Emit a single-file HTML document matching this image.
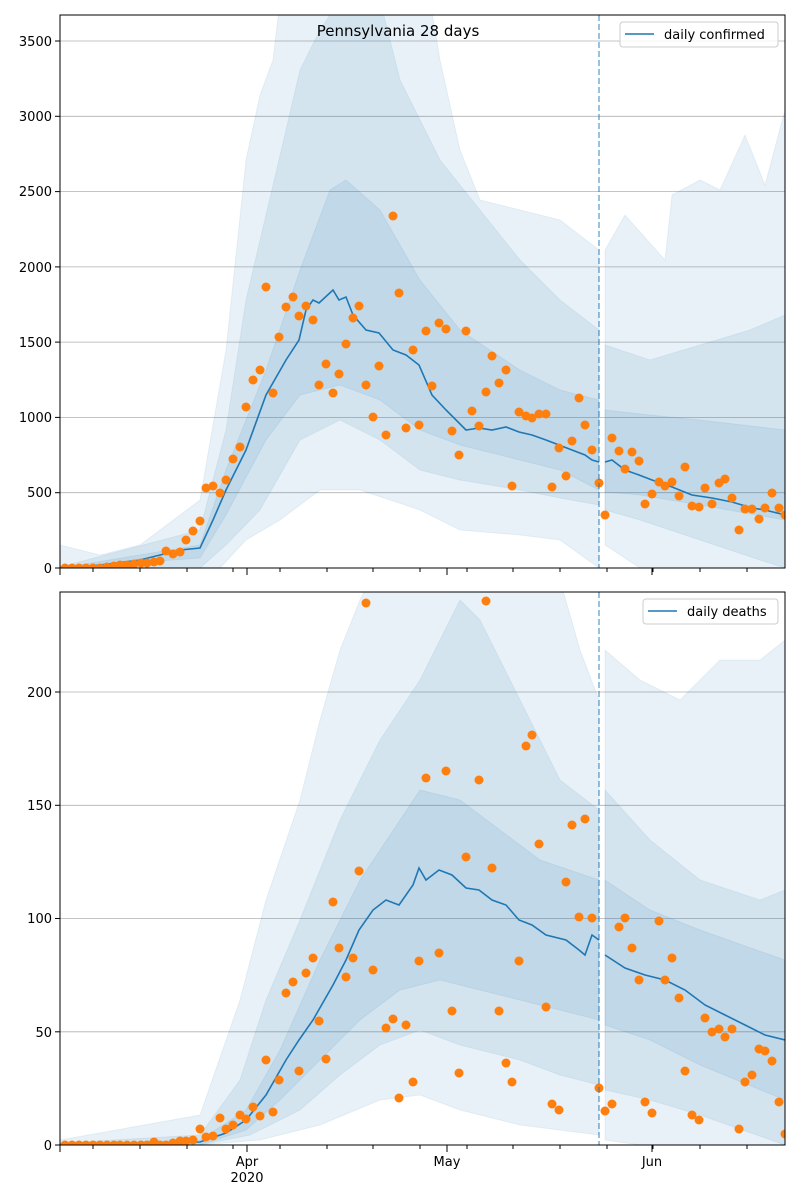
<!DOCTYPE html>
<html><head><meta charset="utf-8"><style>body{margin:0;background:#fff}svg{display:block;font-family:"DejaVu Sans","Liberation Sans",sans-serif}</style></head><body>
<svg width="800" height="1200" viewBox="0 0 800 1200" xmlns="http://www.w3.org/2000/svg">
<defs>
<clipPath id="c1"><rect x="60" y="15" width="725" height="553"/></clipPath>
<clipPath id="c2"><rect x="60" y="592" width="725" height="553"/></clipPath>
</defs>
<rect width="800" height="1200" fill="#fff"/>
<!-- TOP -->
<g clip-path="url(#c1)">
<g stroke="#b0b0b0" stroke-width="0.8">
<line x1="60" x2="785" y1="492.7" y2="492.7"/><line x1="60" x2="785" y1="417.4" y2="417.4"/><line x1="60" x2="785" y1="342.1" y2="342.1"/><line x1="60" x2="785" y1="266.9" y2="266.9"/><line x1="60" x2="785" y1="191.6" y2="191.6"/><line x1="60" x2="785" y1="116.3" y2="116.3"/><line x1="60" x2="785" y1="41" y2="41"/>
</g>
<g fill="#1f77b4" fill-opacity="0.1" stroke="#1f77b4" stroke-opacity="0.08">
<polygon points="60,545 100,555 140,545 200,500 226,350 246,160 260,95 273,60 280,0 430,0 440,60 460,150 480,200 520,210 560,220 599,250 599,568 560,540 520,535 460,530 420,510 360,490 320,490 280,520 246,540 220,568 60,568"/>
<polygon points="605,250 625,215 665,260 672,195 700,180 720,190 745,135 765,185 785,110 785,568 640,568 605,545"/>
<polygon points="60,567 200,530 226,430 246,300 266,215 286,130 300,70 320,30 340,0 380,0 400,80 440,160 480,210 520,260 560,300 599,330 599,505 560,498 520,490 460,480 420,470 380,440 340,420 300,440 260,510 226,545 200,568 60,568"/>
<polygon points="605,345 650,360 700,345 750,330 785,315 785,568 760,560 700,540 640,520 605,510"/>
<polygon points="60,568 200,545 226,470 266,370 300,270 330,190 346,180 380,210 420,280 460,330 520,370 560,390 599,400 599,490 560,470 520,460 460,445 420,430 380,400 340,385 300,395 266,440 226,515 200,558 60,568"/>
<polygon points="605,410 650,415 700,420 785,430 785,520 700,505 640,495 605,492"/>
</g>
<polyline fill="none" stroke="#1f77b4" stroke-width="1.6" points="60,568 100,565 140,560 180,550 200,548 213,520 226,490 246,450 266,395 286,360 299,340 306,310 313,300 319,303 333,290 339,300 346,297 353,315 366,330 379,333 393,350 406,355 419,365 432,395 446,410 466,430 479,428 492,430 506,427 519,432 532,435 546,440 559,445 572,450 585,455 592,460 599,462"/>
<polyline fill="none" stroke="#1f77b4" stroke-width="1.6" points="605,462 612,460 625,470 639,475 652,480 672,487 692,495 712,498 732,502 752,508 765,510 785,515"/>
<g fill="#ff7f0e">
<circle cx="65" cy="568" r="4.5"/><circle cx="72" cy="568" r="4.5"/><circle cx="79" cy="568" r="4.5"/><circle cx="86" cy="568" r="4.5"/><circle cx="93" cy="568" r="4.5"/><circle cx="100" cy="568" r="4.5"/><circle cx="107" cy="567" r="4.5"/><circle cx="114" cy="566" r="4.5"/><circle cx="120" cy="565" r="4.5"/><circle cx="127" cy="565" r="4.5"/><circle cx="134" cy="564" r="4.5"/><circle cx="141" cy="563" r="4.5"/><circle cx="147" cy="563" r="4.5"/><circle cx="154" cy="562" r="4.5"/><circle cx="160" cy="561" r="4.5"/><circle cx="166" cy="551" r="4.5"/><circle cx="173" cy="554" r="4.5"/><circle cx="180" cy="552" r="4.5"/><circle cx="186" cy="540" r="4.5"/><circle cx="193" cy="531" r="4.5"/><circle cx="200" cy="521" r="4.5"/><circle cx="206" cy="488" r="4.5"/><circle cx="213" cy="486" r="4.5"/><circle cx="220" cy="493" r="4.5"/><circle cx="226" cy="480" r="4.5"/><circle cx="233" cy="459" r="4.5"/><circle cx="240" cy="447" r="4.5"/><circle cx="246" cy="407" r="4.5"/><circle cx="253" cy="380" r="4.5"/><circle cx="260" cy="370" r="4.5"/><circle cx="266" cy="287" r="4.5"/><circle cx="273" cy="393" r="4.5"/><circle cx="279" cy="337" r="4.5"/><circle cx="286" cy="307" r="4.5"/><circle cx="293" cy="297" r="4.5"/><circle cx="299" cy="316" r="4.5"/><circle cx="306" cy="306" r="4.5"/><circle cx="313" cy="320" r="4.5"/><circle cx="319" cy="385" r="4.5"/><circle cx="326" cy="364" r="4.5"/><circle cx="333" cy="393" r="4.5"/><circle cx="339" cy="374" r="4.5"/><circle cx="346" cy="344" r="4.5"/><circle cx="353" cy="318" r="4.5"/><circle cx="359" cy="306" r="4.5"/><circle cx="366" cy="385" r="4.5"/><circle cx="373" cy="417" r="4.5"/><circle cx="379" cy="366" r="4.5"/><circle cx="386" cy="435" r="4.5"/><circle cx="393" cy="216" r="4.5"/><circle cx="399" cy="293" r="4.5"/><circle cx="406" cy="428" r="4.5"/><circle cx="413" cy="350" r="4.5"/><circle cx="419" cy="425" r="4.5"/><circle cx="426" cy="331" r="4.5"/><circle cx="432" cy="386" r="4.5"/><circle cx="439" cy="323" r="4.5"/><circle cx="446" cy="329" r="4.5"/><circle cx="452" cy="431" r="4.5"/><circle cx="459" cy="455" r="4.5"/><circle cx="466" cy="331" r="4.5"/><circle cx="472" cy="411" r="4.5"/><circle cx="479" cy="426" r="4.5"/><circle cx="486" cy="392" r="4.5"/><circle cx="492" cy="356" r="4.5"/><circle cx="499" cy="383" r="4.5"/><circle cx="506" cy="370" r="4.5"/><circle cx="512" cy="486" r="4.5"/><circle cx="519" cy="412" r="4.5"/><circle cx="526" cy="416" r="4.5"/><circle cx="532" cy="418" r="4.5"/><circle cx="539" cy="414" r="4.5"/><circle cx="546" cy="414" r="4.5"/><circle cx="552" cy="487" r="4.5"/><circle cx="559" cy="448" r="4.5"/><circle cx="566" cy="476" r="4.5"/><circle cx="572" cy="441" r="4.5"/><circle cx="579" cy="398" r="4.5"/><circle cx="585" cy="425" r="4.5"/><circle cx="592" cy="450" r="4.5"/><circle cx="599" cy="483" r="4.5"/><circle cx="605" cy="515" r="4.5"/><circle cx="612" cy="438" r="4.5"/><circle cx="619" cy="451" r="4.5"/><circle cx="625" cy="469" r="4.5"/><circle cx="632" cy="452" r="4.5"/><circle cx="639" cy="461" r="4.5"/><circle cx="645" cy="504" r="4.5"/><circle cx="652" cy="494" r="4.5"/><circle cx="659" cy="482" r="4.5"/><circle cx="665" cy="486" r="4.5"/><circle cx="672" cy="482" r="4.5"/><circle cx="679" cy="496" r="4.5"/><circle cx="685" cy="467" r="4.5"/><circle cx="692" cy="506" r="4.5"/><circle cx="699" cy="507" r="4.5"/><circle cx="705" cy="488" r="4.5"/><circle cx="712" cy="504" r="4.5"/><circle cx="719" cy="483" r="4.5"/><circle cx="725" cy="479" r="4.5"/><circle cx="732" cy="498" r="4.5"/><circle cx="739" cy="530" r="4.5"/><circle cx="745" cy="509" r="4.5"/><circle cx="752" cy="509" r="4.5"/><circle cx="759" cy="519" r="4.5"/><circle cx="765" cy="508" r="4.5"/><circle cx="772" cy="493" r="4.5"/><circle cx="779" cy="508" r="4.5"/><circle cx="785" cy="515" r="4.5"/>
</g>
<line x1="599" x2="599" y1="15" y2="568" stroke="#1f77b4" stroke-opacity="0.6" stroke-width="1.5" stroke-dasharray="6,3"/>
</g>
<rect x="60" y="15" width="725" height="553" fill="none" stroke="#000" stroke-width="1"/>
<g font-size="13" text-anchor="end" fill="#000">
<text x="52" y="573">0</text><text x="52" y="497">500</text><text x="52" y="422">1000</text><text x="52" y="347">1500</text><text x="52" y="272">2000</text><text x="52" y="196">2500</text><text x="52" y="121">3000</text><text x="52" y="46">3500</text>
</g>
<g stroke="#000"><line x1="55" x2="60" y1="568" y2="568"/><line x1="55" x2="60" y1="492.7" y2="492.7"/><line x1="55" x2="60" y1="417.4" y2="417.4"/><line x1="55" x2="60" y1="342.1" y2="342.1"/><line x1="55" x2="60" y1="266.9" y2="266.9"/><line x1="55" x2="60" y1="191.6" y2="191.6"/><line x1="55" x2="60" y1="116.3" y2="116.3"/><line x1="55" x2="60" y1="41" y2="41"/>
<line x1="60" x2="60" y1="568" y2="575"/><line x1="247" x2="247" y1="568" y2="575"/><line x1="447" x2="447" y1="568" y2="575"/><line x1="652" x2="652" y1="568" y2="575"/>
<g id="mt1"><line x1="93" x2="93" y1="568" y2="572"/><line x1="140" x2="140" y1="568" y2="572"/><line x1="187" x2="187" y1="568" y2="572"/><line x1="233" x2="233" y1="568" y2="572"/><line x1="280" x2="280" y1="568" y2="572"/><line x1="327" x2="327" y1="568" y2="572"/><line x1="373" x2="373" y1="568" y2="572"/><line x1="420" x2="420" y1="568" y2="572"/><line x1="467" x2="467" y1="568" y2="572"/><line x1="513" x2="513" y1="568" y2="572"/><line x1="560" x2="560" y1="568" y2="572"/><line x1="607" x2="607" y1="568" y2="572"/><line x1="653" x2="653" y1="568" y2="572"/><line x1="700" x2="700" y1="568" y2="572"/><line x1="747" x2="747" y1="568" y2="572"/></g>
</g>
<text x="398" y="36" font-size="15" text-anchor="middle">Pennsylvania 28 days</text>
<rect x="620" y="22" width="158" height="25" rx="3" fill="#fff" fill-opacity="0.85" stroke="#ccc"/>
<line x1="625" x2="654" y1="34" y2="34" stroke="#1f77b4" stroke-width="1.6"/>
<text x="664" y="39" font-size="13">daily confirmed</text>

<!-- BOTTOM -->
<g clip-path="url(#c2)">
<g stroke="#b0b0b0" stroke-width="0.8">
<line x1="60" x2="785" y1="1031.8" y2="1031.8"/><line x1="60" x2="785" y1="918.5" y2="918.5"/><line x1="60" x2="785" y1="805.3" y2="805.3"/><line x1="60" x2="785" y1="692" y2="692"/>
</g>
<g fill="#1f77b4" fill-opacity="0.1" stroke="#1f77b4" stroke-opacity="0.08">
<polygon points="60,1140 200,1115 240,1000 266,900 300,800 320,720 340,650 360,600 370,580 560,580 580,650 599,700 599,1135 520,1125 460,1110 420,1095 380,1100 320,1125 260,1140 200,1145 60,1145"/>
<polygon points="605,650 640,680 680,700 720,660 760,660 785,640 785,1145 640,1145 605,1140"/>
<polygon points="60,1143 200,1135 240,1080 266,1000 300,920 340,820 380,740 420,680 440,640 460,600 480,620 520,700 560,780 599,810 599,1085 560,1075 520,1060 460,1045 420,1030 380,1045 340,1075 300,1110 250,1135 200,1145 60,1145"/>
<polygon points="605,790 650,840 700,880 760,900 785,890 785,1145 700,1115 650,1100 605,1090"/>
<polygon points="60,1145 200,1140 246,1110 280,1050 320,960 360,880 400,820 420,790 460,800 500,830 540,860 599,880 599,1020 560,1010 520,1000 480,990 440,980 400,990 360,1020 320,1060 280,1100 246,1130 200,1145"/>
<polygon points="605,880 650,910 700,930 785,960 785,1100 700,1065 650,1040 605,1025"/>
</g>
<polyline fill="none" stroke="#1f77b4" stroke-width="1.6" points="60,1145 200,1142 226,1133 246,1120 266,1095 286,1060 299,1040 313,1020 333,985 346,960 359,930 373,910 386,900 399,905 413,885 419,868 426,880 439,870 452,875 466,888 479,890 492,900 506,905 519,920 532,925 546,935 566,940 579,950 585,955 592,935 599,940"/>
<polyline fill="none" stroke="#1f77b4" stroke-width="1.6" points="605,955 625,968 645,975 665,980 685,990 705,1005 725,1015 745,1025 765,1035 785,1040"/>
<g fill="#ff7f0e">
<circle cx="65" cy="1145" r="4.5"/><circle cx="72" cy="1145" r="4.5"/><circle cx="79" cy="1145" r="4.5"/><circle cx="86" cy="1145" r="4.5"/><circle cx="93" cy="1145" r="4.5"/><circle cx="100" cy="1145" r="4.5"/><circle cx="107" cy="1145" r="4.5"/><circle cx="114" cy="1145" r="4.5"/><circle cx="120" cy="1145" r="4.5"/><circle cx="127" cy="1145" r="4.5"/><circle cx="134" cy="1145" r="4.5"/><circle cx="141" cy="1145" r="4.5"/><circle cx="147" cy="1145" r="4.5"/><circle cx="154" cy="1142" r="4.5"/><circle cx="160" cy="1145" r="4.5"/><circle cx="166" cy="1145" r="4.5"/><circle cx="173" cy="1143" r="4.5"/><circle cx="180" cy="1141" r="4.5"/><circle cx="186" cy="1141" r="4.5"/><circle cx="193" cy="1140" r="4.5"/><circle cx="200" cy="1129" r="4.5"/><circle cx="206" cy="1137" r="4.5"/><circle cx="213" cy="1136" r="4.5"/><circle cx="220" cy="1118" r="4.5"/><circle cx="226" cy="1129" r="4.5"/><circle cx="233" cy="1125" r="4.5"/><circle cx="240" cy="1115" r="4.5"/><circle cx="246" cy="1119" r="4.5"/><circle cx="253" cy="1107" r="4.5"/><circle cx="260" cy="1116" r="4.5"/><circle cx="266" cy="1060" r="4.5"/><circle cx="273" cy="1112" r="4.5"/><circle cx="279" cy="1080" r="4.5"/><circle cx="286" cy="993" r="4.5"/><circle cx="293" cy="982" r="4.5"/><circle cx="299" cy="1071" r="4.5"/><circle cx="306" cy="973" r="4.5"/><circle cx="313" cy="958" r="4.5"/><circle cx="319" cy="1021" r="4.5"/><circle cx="326" cy="1059" r="4.5"/><circle cx="333" cy="902" r="4.5"/><circle cx="339" cy="948" r="4.5"/><circle cx="346" cy="977" r="4.5"/><circle cx="353" cy="958" r="4.5"/><circle cx="359" cy="871" r="4.5"/><circle cx="366" cy="603" r="4.5"/><circle cx="373" cy="970" r="4.5"/><circle cx="386" cy="1028" r="4.5"/><circle cx="393" cy="1019" r="4.5"/><circle cx="399" cy="1098" r="4.5"/><circle cx="406" cy="1025" r="4.5"/><circle cx="413" cy="1082" r="4.5"/><circle cx="419" cy="961" r="4.5"/><circle cx="426" cy="778" r="4.5"/><circle cx="439" cy="953" r="4.5"/><circle cx="446" cy="771" r="4.5"/><circle cx="452" cy="1011" r="4.5"/><circle cx="459" cy="1073" r="4.5"/><circle cx="466" cy="857" r="4.5"/><circle cx="479" cy="780" r="4.5"/><circle cx="486" cy="601" r="4.5"/><circle cx="492" cy="868" r="4.5"/><circle cx="499" cy="1011" r="4.5"/><circle cx="506" cy="1063" r="4.5"/><circle cx="512" cy="1082" r="4.5"/><circle cx="519" cy="961" r="4.5"/><circle cx="526" cy="746" r="4.5"/><circle cx="532" cy="735" r="4.5"/><circle cx="539" cy="844" r="4.5"/><circle cx="546" cy="1007" r="4.5"/><circle cx="552" cy="1104" r="4.5"/><circle cx="559" cy="1110" r="4.5"/><circle cx="566" cy="882" r="4.5"/><circle cx="572" cy="825" r="4.5"/><circle cx="579" cy="917" r="4.5"/><circle cx="585" cy="819" r="4.5"/><circle cx="592" cy="918" r="4.5"/><circle cx="599" cy="1088" r="4.5"/><circle cx="605" cy="1111" r="4.5"/><circle cx="612" cy="1104" r="4.5"/><circle cx="619" cy="927" r="4.5"/><circle cx="625" cy="918" r="4.5"/><circle cx="632" cy="948" r="4.5"/><circle cx="639" cy="980" r="4.5"/><circle cx="645" cy="1102" r="4.5"/><circle cx="652" cy="1113" r="4.5"/><circle cx="659" cy="921" r="4.5"/><circle cx="665" cy="980" r="4.5"/><circle cx="672" cy="958" r="4.5"/><circle cx="679" cy="998" r="4.5"/><circle cx="685" cy="1071" r="4.5"/><circle cx="692" cy="1115" r="4.5"/><circle cx="699" cy="1120" r="4.5"/><circle cx="705" cy="1018" r="4.5"/><circle cx="712" cy="1032" r="4.5"/><circle cx="719" cy="1029" r="4.5"/><circle cx="725" cy="1037" r="4.5"/><circle cx="732" cy="1029" r="4.5"/><circle cx="739" cy="1129" r="4.5"/><circle cx="745" cy="1082" r="4.5"/><circle cx="752" cy="1075" r="4.5"/><circle cx="759" cy="1049" r="4.5"/><circle cx="765" cy="1051" r="4.5"/><circle cx="772" cy="1061" r="4.5"/><circle cx="779" cy="1102" r="4.5"/><circle cx="785" cy="1134" r="4.5"/>
</g>
<line x1="599" x2="599" y1="592" y2="1145" stroke="#1f77b4" stroke-opacity="0.6" stroke-width="1.5" stroke-dasharray="6,3"/>
</g>
<rect x="60" y="592" width="725" height="553" fill="none" stroke="#000" stroke-width="1"/>
<g font-size="13" text-anchor="end">
<text x="52" y="1150">0</text><text x="52" y="1037">50</text><text x="52" y="923">100</text><text x="52" y="810">150</text><text x="52" y="697">200</text>
</g>
<g stroke="#000"><line x1="55" x2="60" y1="1145" y2="1145"/><line x1="55" x2="60" y1="1031.8" y2="1031.8"/><line x1="55" x2="60" y1="918.5" y2="918.5"/><line x1="55" x2="60" y1="805.3" y2="805.3"/><line x1="55" x2="60" y1="692" y2="692"/>
<line x1="60" x2="60" y1="1145" y2="1152"/><line x1="247" x2="247" y1="1145" y2="1152"/><line x1="447" x2="447" y1="1145" y2="1152"/><line x1="652" x2="652" y1="1145" y2="1152"/>
<use href="#mt1" transform="translate(0,577)"/>
</g>
<g font-size="13" text-anchor="middle"><text x="247" y="1166">Apr</text><text x="247" y="1182">2020</text><text x="447" y="1166">May</text><text x="652" y="1166">Jun</text></g>
<rect x="643" y="599" width="135" height="25" rx="3" fill="#fff" fill-opacity="0.85" stroke="#ccc"/>
<line x1="648" x2="677" y1="611" y2="611" stroke="#1f77b4" stroke-width="1.6"/>
<text x="687" y="616" font-size="13">daily deaths</text>
</svg>
</body></html>
